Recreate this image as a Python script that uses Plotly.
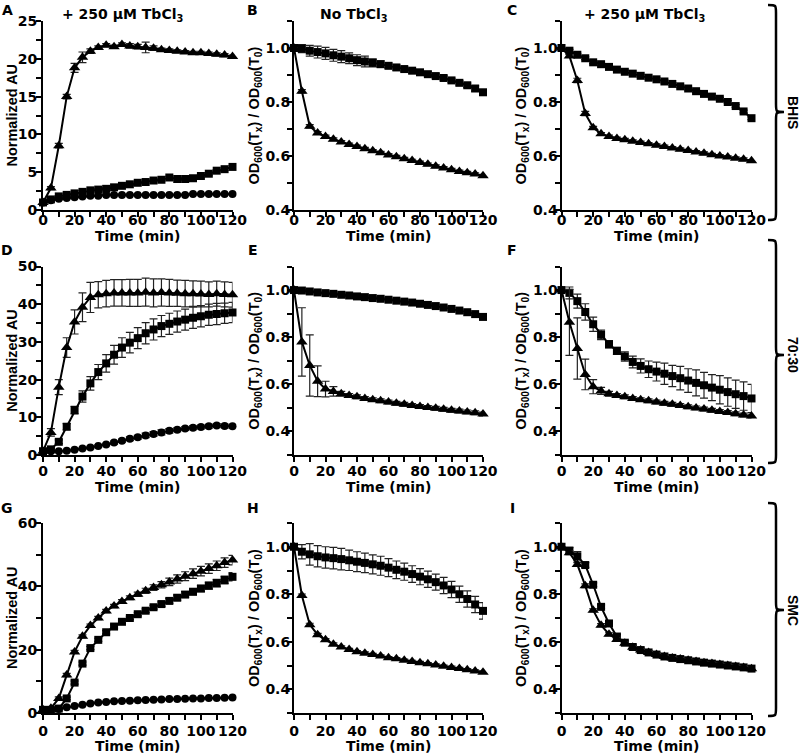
import plotly.graph_objects as go

time = [0, 5, 10, 15, 20, 25, 30, 35, 40, 45, 50, 55, 60, 65, 70, 75, 80, 85, 90, 95, 100, 105, 110, 115, 120]

# Panel A (BHIS, + TbCl3, fluorescence)
A_tri = [1.0, 2.9, 8.5, 15.0, 18.8, 20.2, 21.0, 21.5, 21.8, 21.6, 21.9, 21.7, 21.6, 21.5, 21.4, 21.2, 21.1, 21.0, 20.9, 20.8, 20.8, 20.7, 20.6, 20.5, 20.3]
A_tri_err = [0, 0.2, 0.3, 0.3, 0.6, 0.7, 0.3, 0.2, 0.2, 0.2, 0.2, 0.3, 0.3, 0.7, 0.3, 0.2, 0.2, 0.2, 0.2, 0.2, 0.2, 0.2, 0.2, 0.2, 0.2]
A_sq = [1.0, 1.4, 1.8, 2.0, 2.2, 2.4, 2.6, 2.7, 2.8, 3.0, 3.2, 3.4, 3.6, 3.7, 3.9, 4.0, 4.3, 4.1, 4.1, 4.2, 4.5, 4.8, 5.2, 5.4, 5.7]
A_sq_err = [0, 0.1, 0.1, 0.1, 0.1, 0.15, 0.15, 0.15, 0.15, 0.15, 0.15, 0.15, 0.15, 0.15, 0.15, 0.15, 0.15, 0.15, 0.15, 0.15, 0.15, 0.15, 0.15, 0.15, 0.15]
A_circ = [1.0, 1.3, 1.5, 1.6, 1.7, 1.8, 1.9, 1.9, 2.0, 2.0, 2.0, 2.0, 2.0, 2.0, 2.0, 2.0, 2.0, 2.0, 2.0, 2.1, 2.1, 2.1, 2.1, 2.1, 2.1]
A_circ_err = [0, 0.1, 0.1, 0.1, 0.1, 0.1, 0.1, 0.1, 0.1, 0.1, 0.1, 0.1, 0.1, 0.1, 0.1, 0.1, 0.1, 0.1, 0.1, 0.1, 0.1, 0.1, 0.1, 0.1, 0.1]

# Panel B (BHIS, no TbCl3, OD)
B_sq = [1.0, 0.998, 0.99, 0.985, 0.98, 0.973, 0.968, 0.962, 0.955, 0.95, 0.945, 0.94, 0.934, 0.928, 0.922, 0.916, 0.91, 0.903, 0.896, 0.889, 0.88, 0.871, 0.862, 0.85, 0.836]
B_sq_err = [0, 0.015, 0.02, 0.022, 0.022, 0.022, 0.022, 0.02, 0.02, 0.02, 0.015, 0.012, 0.01, 0.01, 0.008, 0.008, 0.008, 0.008, 0.008, 0.008, 0.008, 0.008, 0.008, 0.01, 0.01]
B_tri = [1.0, 0.84, 0.71, 0.685, 0.672, 0.662, 0.652, 0.643, 0.635, 0.627, 0.619, 0.612, 0.604, 0.597, 0.59, 0.583, 0.576, 0.569, 0.562, 0.556, 0.549, 0.543, 0.538, 0.533, 0.527]
B_tri_err = [0, 0.006, 0.006, 0.005, 0.005, 0.005, 0.005, 0.005, 0.005, 0.005, 0.005, 0.005, 0.005, 0.005, 0.005, 0.005, 0.005, 0.005, 0.005, 0.005, 0.005, 0.005, 0.005, 0.005, 0.005]

# Panel C (BHIS, + TbCl3, OD)
C_sq = [1.0, 0.99, 0.975, 0.962, 0.947, 0.94, 0.93, 0.92, 0.912, 0.905, 0.897, 0.89, 0.884, 0.876, 0.867, 0.858, 0.85, 0.84, 0.83, 0.82, 0.812, 0.80, 0.785, 0.765, 0.74]
C_sq_err = [0, 0.005, 0.005, 0.005, 0.005, 0.005, 0.005, 0.005, 0.005, 0.005, 0.005, 0.005, 0.005, 0.005, 0.005, 0.005, 0.005, 0.005, 0.005, 0.005, 0.005, 0.005, 0.005, 0.005, 0.005]
C_tri = [1.0, 0.97, 0.88, 0.757, 0.705, 0.682, 0.672, 0.665, 0.66, 0.655, 0.65, 0.645, 0.64, 0.635, 0.63, 0.625, 0.62, 0.615, 0.61, 0.605, 0.60, 0.596, 0.592, 0.588, 0.582]
C_tri_err = [0, 0.005, 0.008, 0.008, 0.005, 0.005, 0.005, 0.005, 0.005, 0.005, 0.005, 0.005, 0.005, 0.005, 0.005, 0.005, 0.005, 0.005, 0.005, 0.005, 0.005, 0.005, 0.005, 0.005, 0.005]

# Panel D (70:30, + TbCl3, fluorescence)
D_tri = [1.0, 6.0, 18.0, 28.5, 35.3, 39.2, 41.8, 42.5, 42.8, 43.0, 43.0, 43.0, 43.0, 43.2, 43.0, 43.1, 43.0, 42.9, 42.8, 42.8, 42.7, 42.6, 42.8, 42.6, 42.5]
D_tri_err = [0, 1.0, 2.0, 2.6, 3.2, 3.8, 4.0, 3.5, 3.5, 3.5, 3.5, 3.6, 3.6, 3.7, 3.7, 3.6, 3.6, 3.5, 3.5, 3.4, 3.4, 3.3, 3.3, 3.3, 3.3]
D_sq = [1.0, 1.5, 3.5, 7.5, 11.9, 15.5, 19.0, 22.0, 24.3, 26.6, 28.5, 29.8, 31.0, 32.3, 33.3, 34.2, 34.8, 35.4, 35.9, 36.4, 36.8, 37.2, 37.4, 37.6, 37.8]
D_sq_err = [0, 0.3, 0.5, 0.8, 1.0, 1.5, 1.8, 2.0, 2.3, 2.5, 2.6, 2.7, 2.8, 2.8, 2.8, 2.8, 2.8, 2.8, 2.8, 2.8, 2.8, 2.8, 2.8, 2.7, 2.7]
D_circ = [1.0, 1.0, 1.0, 1.1, 1.4, 1.7, 2.0, 2.4, 2.8, 3.3, 3.8, 4.3, 4.7, 5.2, 5.6, 6.0, 6.4, 6.7, 7.0, 7.2, 7.4, 7.6, 7.8, 7.7, 7.6]
D_circ_err = [0, 0.1, 0.1, 0.2, 0.2, 0.2, 0.3, 0.3, 0.3, 0.4, 0.4, 0.5, 0.5, 0.6, 0.6, 0.7, 0.6, 0.5, 0.5, 0.5, 0.5, 0.5, 0.5, 0.5, 0.5]

# Panel E (70:30, no TbCl3, OD)
E_sq = [1.0, 0.998, 0.994, 0.99, 0.987, 0.984, 0.98, 0.977, 0.973, 0.97, 0.966, 0.963, 0.959, 0.955, 0.951, 0.947, 0.942, 0.937, 0.932, 0.926, 0.92, 0.913, 0.906, 0.898, 0.886]
E_sq_err = [0, 0.005, 0.005, 0.005, 0.005, 0.005, 0.005, 0.005, 0.005, 0.005, 0.005, 0.005, 0.005, 0.005, 0.005, 0.005, 0.005, 0.005, 0.005, 0.005, 0.005, 0.005, 0.005, 0.005, 0.005]
E_tri = [1.0, 0.78, 0.68, 0.613, 0.58, 0.57, 0.56, 0.553, 0.547, 0.54, 0.535, 0.53, 0.525, 0.52, 0.515, 0.51, 0.506, 0.502, 0.498, 0.494, 0.49, 0.487, 0.483, 0.479, 0.474]
E_tri_err = [0, 0.145, 0.13, 0.065, 0.033, 0.02, 0.01, 0.008, 0.008, 0.008, 0.008, 0.008, 0.008, 0.008, 0.008, 0.008, 0.008, 0.008, 0.008, 0.008, 0.008, 0.008, 0.008, 0.008, 0.008]

# Panel F (70:30, + TbCl3, OD)
F_sq = [1.0, 0.988, 0.953, 0.907, 0.855, 0.81, 0.77, 0.742, 0.718, 0.695, 0.678, 0.664, 0.654, 0.645, 0.635, 0.626, 0.616, 0.606, 0.596, 0.586, 0.577, 0.567, 0.558, 0.55, 0.54]
F_sq_err = [0, 0.025, 0.03, 0.035, 0.03, 0.02, 0.015, 0.015, 0.02, 0.025, 0.03, 0.035, 0.04, 0.045, 0.045, 0.05, 0.05, 0.055, 0.055, 0.055, 0.06, 0.06, 0.06, 0.06, 0.06]
F_tri = [1.0, 0.863, 0.752, 0.642, 0.59, 0.572, 0.56, 0.553, 0.547, 0.54, 0.535, 0.53, 0.525, 0.52, 0.515, 0.51, 0.505, 0.5, 0.495, 0.49, 0.485, 0.48, 0.475, 0.47, 0.465]
F_tri_err = [0, 0.14, 0.13, 0.065, 0.03, 0.015, 0.01, 0.008, 0.008, 0.008, 0.008, 0.008, 0.008, 0.008, 0.008, 0.008, 0.008, 0.008, 0.008, 0.008, 0.008, 0.008, 0.008, 0.008, 0.008]

# Panel G (SMC, + TbCl3, fluorescence)
G_tri = [1.0, 1.5, 4.6, 12.0, 19.3, 24.2, 27.6, 30.0, 32.2, 33.8, 35.2, 36.4, 37.5, 38.6, 39.6, 40.5, 41.4, 42.3, 43.2, 44.0, 44.8, 45.6, 46.5, 47.5, 48.3]
G_tri_err = [0, 0.3, 0.5, 0.5, 0.5, 0.5, 0.5, 0.5, 0.5, 0.5, 0.6, 0.6, 0.7, 0.8, 0.9, 1.0, 1.2, 1.3, 1.4, 1.5, 1.5, 1.5, 1.5, 1.5, 1.5]
G_sq = [1.0, 1.0, 1.4, 4.6, 9.6, 15.6, 20.5, 23.1, 25.5, 27.3, 28.8, 30.0, 31.2, 32.3, 33.4, 34.4, 35.4, 36.4, 37.4, 38.3, 39.3, 40.2, 41.0, 42.0, 43.0]
G_sq_err = [0, 0.2, 0.3, 0.4, 0.5, 0.5, 0.5, 0.5, 0.5, 0.5, 0.5, 0.5, 0.5, 0.6, 0.6, 0.7, 0.8, 0.8, 0.9, 1.0, 1.0, 1.1, 1.2, 1.2, 1.3]
G_circ = [1.0, 1.0, 1.3, 1.8, 2.2, 2.6, 3.0, 3.3, 3.5, 3.7, 3.8, 3.9, 4.0, 4.1, 4.2, 4.3, 4.4, 4.4, 4.5, 4.6, 4.6, 4.7, 4.7, 4.8, 4.9]
G_circ_err = [0, 0.1, 0.1, 0.1, 0.2, 0.2, 0.2, 0.2, 0.2, 0.2, 0.2, 0.2, 0.2, 0.2, 0.2, 0.2, 0.2, 0.2, 0.2, 0.2, 0.2, 0.2, 0.2, 0.2, 0.2]

# Panel H (SMC, no TbCl3, OD)
H_sq = [1.0, 0.979, 0.968, 0.96, 0.955, 0.952, 0.948, 0.943, 0.937, 0.932, 0.926, 0.92, 0.912, 0.903, 0.895, 0.885, 0.874, 0.863, 0.851, 0.837, 0.82, 0.8, 0.78, 0.757, 0.73]
H_sq_err = [0, 0.03, 0.045, 0.045, 0.045, 0.045, 0.045, 0.043, 0.042, 0.041, 0.04, 0.04, 0.038, 0.037, 0.036, 0.035, 0.034, 0.034, 0.034, 0.034, 0.034, 0.034, 0.034, 0.034, 0.035]
H_tri = [1.0, 0.795, 0.672, 0.63, 0.608, 0.59, 0.578, 0.567, 0.558, 0.552, 0.546, 0.54, 0.533, 0.528, 0.522, 0.517, 0.512, 0.507, 0.502, 0.497, 0.492, 0.487, 0.482, 0.477, 0.472]
H_tri_err = [0, 0.006, 0.006, 0.005, 0.005, 0.005, 0.005, 0.005, 0.005, 0.005, 0.005, 0.005, 0.005, 0.005, 0.005, 0.005, 0.005, 0.005, 0.005, 0.005, 0.005, 0.005, 0.005, 0.005, 0.005]

# Panel I (SMC, + TbCl3, OD)
I_sq = [1.0, 0.984, 0.96, 0.923, 0.84, 0.747, 0.677, 0.622, 0.596, 0.578, 0.565, 0.555, 0.546, 0.538, 0.532, 0.527, 0.522, 0.517, 0.512, 0.508, 0.504, 0.5, 0.496, 0.492, 0.487]
I_sq_err = [0, 0.012, 0.02, 0.01, 0.008, 0.008, 0.008, 0.008, 0.008, 0.008, 0.008, 0.008, 0.008, 0.008, 0.008, 0.008, 0.008, 0.008, 0.008, 0.008, 0.008, 0.008, 0.008, 0.008, 0.01]
I_tri = [1.0, 0.975, 0.925, 0.836, 0.733, 0.67, 0.632, 0.61, 0.594, 0.577, 0.565, 0.555, 0.546, 0.538, 0.532, 0.527, 0.522, 0.517, 0.512, 0.508, 0.504, 0.5, 0.496, 0.492, 0.486]
I_tri_err = [0, 0.008, 0.008, 0.008, 0.006, 0.006, 0.006, 0.006, 0.006, 0.006, 0.006, 0.006, 0.006, 0.006, 0.006, 0.006, 0.006, 0.006, 0.006, 0.006, 0.006, 0.006, 0.006, 0.006, 0.006]

col_titles = ["+ 250 µM TbCl<sub>3</sub>", "No TbCl<sub>3</sub>", "+ 250 µM TbCl<sub>3</sub>"]
row_labels = ["BHIS", "70:30", "SMC"]
panel_letters = ["A", "B", "C", "D", "E", "F", "G", "H", "I"]
x_title = "Time (min)"
y_title_fluor = "Normalized AU"
y_title_od = "OD<sub>600</sub>(T<sub>x</sub>) / OD<sub>600</sub>(T<sub>0</sub>)"

W, H = 800, 754
FONT_H = "DejaVu Sans"       # horizontal texts (wide look)
FONT_V = "Liberation Sans"   # rotated texts


def px(x):
    return x / W


def py(y):
    return 1 - y / H


col_px = [(43, 232.5), (294, 483), (561.5, 751.5)]
row_px = [(21, 210), (266.5, 455), (523, 713)]
x_standoff = [-9, -3, -1]
y_standoff = [-4, -6, -6]

panels = [
    [("tri", A_tri, A_tri_err), ("sq", A_sq, A_sq_err), ("circ", A_circ, A_circ_err)],
    [("sq", B_sq, B_sq_err), ("tri", B_tri, B_tri_err)],
    [("sq", C_sq, C_sq_err), ("tri", C_tri, C_tri_err)],
    [("tri", D_tri, D_tri_err), ("sq", D_sq, D_sq_err), ("circ", D_circ, D_circ_err)],
    [("sq", E_sq, E_sq_err), ("tri", E_tri, E_tri_err)],
    [("sq", F_sq, F_sq_err), ("tri", F_tri, F_tri_err)],
    [("tri", G_tri, G_tri_err), ("sq", G_sq, G_sq_err), ("circ", G_circ, G_circ_err)],
    [("sq", H_sq, H_sq_err), ("tri", H_tri, H_tri_err)],
    [("sq", I_sq, I_sq_err), ("tri", I_tri, I_tri_err)],
]

y_cfg = [
    dict(range=[0, 25], dtick=5, tick0=0, minor=2.5, fmt=None),
    dict(range=[0.4, 1.1], dtick=0.2, tick0=0.4, minor=0.1, fmt=".1f"),
    dict(range=[0.4, 1.1], dtick=0.2, tick0=0.4, minor=0.1, fmt=".1f"),
    dict(range=[0, 50], dtick=10, tick0=0, minor=5, fmt=None),
    dict(range=[0.3, 1.1], dtick=0.2, tick0=0.4, minor=0.1, fmt=".1f"),
    dict(range=[0.3, 1.1], dtick=0.2, tick0=0.4, minor=0.1, fmt=".1f"),
    dict(range=[0, 60], dtick=20, tick0=0, minor=10, fmt=None),
    dict(range=[0.3, 1.1], dtick=0.2, tick0=0.4, minor=0.1, fmt=".1f"),
    dict(range=[0.3, 1.1], dtick=0.2, tick0=0.4, minor=0.1, fmt=".1f"),
]

markers = {
    "tri": dict(symbol="triangle-up", size=10),
    "sq": dict(symbol="square", size=8),
    "circ": dict(symbol="circle", size=8),
}

fig = go.Figure()
layout = dict(
    width=W, height=H, autosize=False,
    margin=dict(l=0, r=0, t=0, b=0),
    paper_bgcolor="white", plot_bgcolor="white",
    showlegend=False,
)

tickfont = dict(family=FONT_H, size=14, color="black", weight="bold")

for i in range(9):
    r, c = divmod(i, 3)
    n = "" if i == 0 else str(i + 1)
    xa, ya = "x" + n, "y" + n
    for kind, vals, errs in panels[i]:
        fig.add_trace(go.Scatter(
            x=time, y=vals, xaxis=xa, yaxis=ya, mode="lines+markers",
            line=dict(color="black", width=2),
            marker=dict(color="black", **markers[kind]),
            error_y=dict(type="data", array=errs, visible=True, color="#222222", thickness=1.2, width=4),
            cliponaxis=False,
        ))
    cx0, cx1 = col_px[c]
    ry0, ry1 = row_px[r]
    yc = y_cfg[i]
    layout["xaxis" + n] = dict(
        domain=[px(cx0), px(cx1)], anchor=ya, range=[0, 120],
        dtick=20, tick0=0, ticks="outside", ticklen=5, tickwidth=2, tickcolor="black",
        showline=True, linewidth=2, linecolor="black", showgrid=False, zeroline=False,
        tickfont=tickfont, automargin=False, ticklabelstandoff=x_standoff[r],
        minor=dict(dtick=10, ticks="outside", ticklen=5, tickwidth=2, tickcolor="black", showgrid=False),
    )
    yax = dict(
        domain=[py(ry1), py(ry0)], anchor=xa, range=yc["range"],
        dtick=yc["dtick"], tick0=yc["tick0"], ticks="outside", ticklen=5, tickwidth=2, tickcolor="black",
        showline=True, linewidth=2, linecolor="black", showgrid=False, zeroline=False,
        tickfont=tickfont, automargin=False, ticklabelstandoff=y_standoff[c],
        minor=dict(dtick=yc["minor"], ticks="outside", ticklen=5, tickwidth=2, tickcolor="black", showgrid=False),
    )
    if yc["fmt"]:
        yax["tickformat"] = yc["fmt"]
    layout["yaxis" + n] = yax

fig.update_layout(**layout)

ann = []
# Column titles
title_x = [122, 354, 644]
for c in range(3):
    ann.append(dict(x=px(title_x[c]), y=py(15), xref="paper", yref="paper",
                    text="<b>" + col_titles[c] + "</b>", showarrow=False,
                    font=dict(family=FONT_H, size=14, color="black"), xanchor="center", yanchor="middle"))

# Panel letters
letter_x = [7, 253, 512]
letter_y = [10, 250, 508]
for i in range(9):
    r, c = divmod(i, 3)
    ann.append(dict(x=px(letter_x[c]), y=py(letter_y[r]), xref="paper", yref="paper",
                    text="<b>" + panel_letters[i] + "</b>", showarrow=False,
                    font=dict(family=FONT_H, size=14, color="black"), xanchor="center", yanchor="middle"))

# Axis titles
xt_y = [236, 487, 746]
yt_x = [12, 255, 522]
for r in range(3):
    ry0, ry1 = row_px[r]
    for c in range(3):
        cx0, cx1 = col_px[c]
        ann.append(dict(x=px((cx0 + cx1) / 2), y=py(xt_y[r]), xref="paper", yref="paper",
                        text="<b>" + x_title + "</b>", showarrow=False,
                        font=dict(family=FONT_H, size=14, color="black"), xanchor="center", yanchor="middle"))
        ytxt = y_title_fluor if c == 0 else y_title_od
        ann.append(dict(x=px(yt_x[c]), y=py((ry0 + ry1) / 2), xref="paper", yref="paper",
                        text="<b>" + ytxt + "</b>", showarrow=False, textangle=-90,
                        font=dict(family=FONT_V, size=14.5, color="black"), xanchor="center", yanchor="middle"))

# Braces and row labels
brace_rows = [(5, 112, 220), (240, 355, 463), (503, 610, 716)]
shapes = []
for r, (yt, ym, yb) in enumerate(brace_rows):
    x0, x1, x2 = 768, 776, 784
    rr = 8
    path = (
        f"M {px(x0)},{py(yt)} "
        f"C {px(x1)},{py(yt)} {px(x1)},{py(yt)} {px(x1)},{py(yt + rr)} "
        f"L {px(x1)},{py(ym - rr)} "
        f"C {px(x1)},{py(ym)} {px(x1)},{py(ym)} {px(x2)},{py(ym)} "
        f"C {px(x1)},{py(ym)} {px(x1)},{py(ym)} {px(x1)},{py(ym + rr)} "
        f"L {px(x1)},{py(yb - rr)} "
        f"C {px(x1)},{py(yb)} {px(x1)},{py(yb)} {px(x0)},{py(yb)}"
    )
    shapes.append(dict(type="path", path=path, xref="paper", yref="paper",
                       line=dict(color="black", width=2.5)))
    ann.append(dict(x=px(793), y=py(ym), xref="paper", yref="paper",
                    text="<b>" + row_labels[r] + "</b>", showarrow=False, textangle=90,
                    font=dict(family=FONT_V, size=14, color="black"), xanchor="center", yanchor="middle"))

fig.update_layout(annotations=ann, shapes=shapes)
fig.write_html("out.html", config={"displayModeBar": False},
               post_script="document.body.style.margin='0';document.body.style.padding='0';")
